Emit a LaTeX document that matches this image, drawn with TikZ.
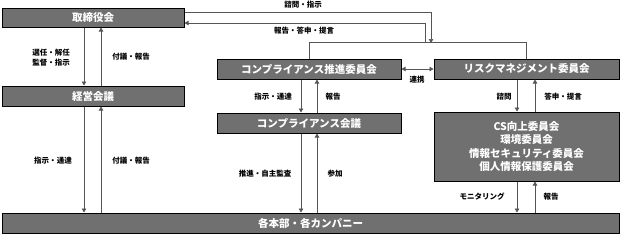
\documentclass[tikz,border=0pt]{standalone}
\usepackage{fontspec}
\setmainfont{Noto Sans CJK JP}
\usepackage{xcolor}
\usetikzlibrary{arrows.meta}

\definecolor{boxgray}{RGB}{112,112,112}
\definecolor{linegray}{RGB}{85,85,85}

\begin{document}
\begin{tikzpicture}[x=1pt, y=-1pt,
      box/.style={draw=black, line width=1pt, fill=boxgray, text=white,
                  inner sep=0pt, align=center,
                  font=\bfseries\fontsize{10.5}{13.5}\selectfont},
      lbl/.style={font=\bfseries\fontsize{7.5}{9.5}\selectfont, align=center},
      link/.style={draw=linegray, line width=0.6pt},
      arr/.style={link, -{Triangle[length=4pt, width=4.5pt]}}
    ]
      \useasboundingbox (0,0) rectangle (621,234);

      % boxes
      \node[box, minimum width=182pt, minimum height=19pt] (board) at (93,17.5) {取締役会};
      \node[box, minimum width=182pt, minimum height=20pt] (mgmt)  at (93,96) {経営会議};
      \node[box, minimum width=617pt, minimum height=20pt] (hq)    at (310.5,223) {各本部・各カンパニー};
      \node[box, minimum width=184pt, minimum height=20pt] (cpc)   at (309,69) {コンプライアンス推進委員会};
      \node[box, minimum width=184pt, minimum height=20pt] (cpm)   at (309,123) {コンプライアンス会議};
      \node[box, minimum width=185pt, minimum height=20pt] (rmc)   at (526.5,69) {リスクマネジメント委員会};
      \node[box, minimum width=185pt, minimum height=69pt] (subc)  at (526.5,146.5)
            {CS向上委員会\\環境委員会\\情報セキュリティ委員会\\個人情報保護委員会};

      % board <-> management <-> headquarters
      \draw[arr] ([xshift=-9pt]board.south) -- ([xshift=-9pt]mgmt.north);
      \draw[arr] ([xshift=8pt]mgmt.north) -- ([xshift=8pt]board.south);
      \draw[arr] ([xshift=-9pt]mgmt.south) -- ([xshift=-9pt]mgmt.south |- hq.north);
      \draw[arr] ([xshift=8pt]mgmt.south |- hq.north) -- ([xshift=8pt]mgmt.south);

      % committees
      \draw[link] (cpc.north) -- ++(0,-16) coordinate (joinl) -| (rmc.north);
      \coordinate (askend) at (431,43);
      \coordinate (repstart) at (425,43);
      \draw[arr] ([yshift=5.5pt]board.east) -| (askend);
      \draw[arr] (repstart) |- ([yshift=-5.5pt]board.east);
      \draw[link, {Triangle[length=4pt, width=4.5pt]}-{Triangle[length=4pt, width=4.5pt]}] (cpc.east) -- (rmc.west);

      \draw[arr] ([xshift=-8pt]cpc.south) -- ([xshift=-8pt]cpm.north);
      \draw[arr] ([xshift=8pt]cpm.north) -- ([xshift=8pt]cpc.south);
      \draw[arr] ([xshift=-8pt]cpm.south) -- ([xshift=-8pt]cpm.south |- hq.north);
      \draw[arr] ([xshift=8pt]cpm.south |- hq.north) -- ([xshift=8pt]cpm.south);

      \draw[arr] ([xshift=-9.5pt]rmc.south) -- ([xshift=-9.5pt]subc.north);
      \draw[arr] ([xshift=8.5pt]subc.north) -- ([xshift=8.5pt]rmc.south);
      \draw[arr] ([xshift=-9.5pt]subc.south) -- ([xshift=-9.5pt]subc.south |- hq.north);
      \draw[arr] ([xshift=8.5pt]subc.south |- hq.north) -- ([xshift=8.5pt]subc.south);

      % labels
      \node[lbl] (l1)  at (51,57.5) {選任・解任\\監督・指示};
      \node[lbl] (l2)  at (131,57) {付議・報告};
      \node[lbl] (l3)  at (53,161) {指示・通達};
      \node[lbl] (l4)  at (131,161) {付議・報告};
      \node[lbl] (l5)  at (303,5) {諮問・指示};
      \node[lbl] (l6)  at (304,31) {報告・答申・提言};
      \node[lbl] (l7)  at (417,80) {連携};
      \node[lbl] (l8)  at (273,97) {指示・通達};
      \node[lbl] (l9)  at (333,97) {報告};
      \node[lbl] (l10) at (265,174) {推進・自主監査};
      \node[lbl] (l11) at (335,174) {参加};
      \node[lbl] (l12) at (504,97) {諮問};
      \node[lbl] (l13) at (563,97) {答申・提言};
      \node[lbl] (l14) at (482,197) {モニタリング};
      \node[lbl] (l15) at (551,197) {報告};
    \end{tikzpicture}
\end{document}
